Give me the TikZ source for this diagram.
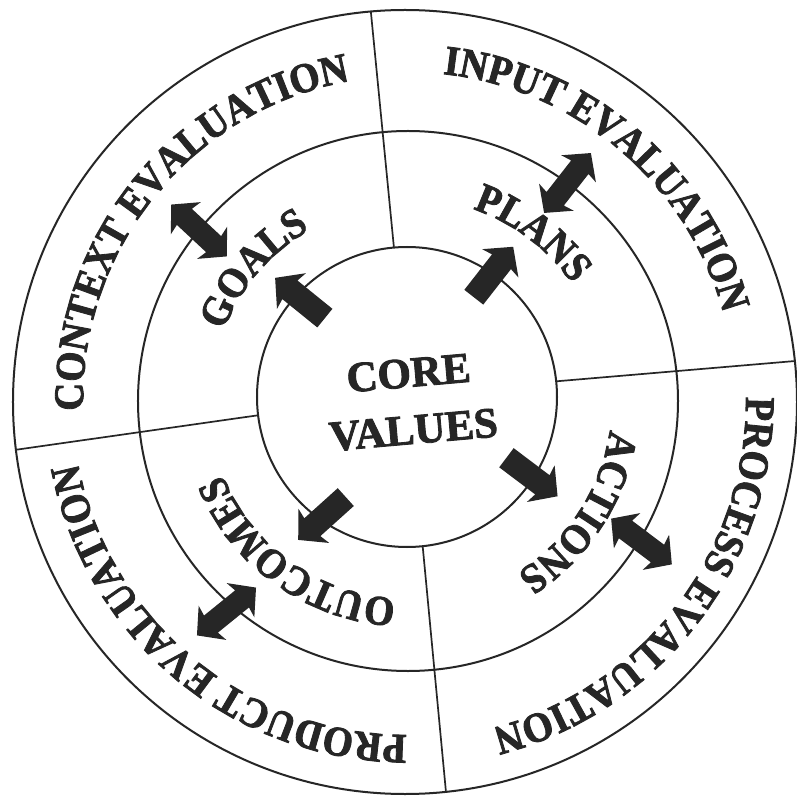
\documentclass[tikz,border=0pt]{standalone}
\usepackage{fontspec}
\setmainfont{Liberation Serif}
\newfontfamily\arcfam{Liberation Serif Bold}[FakeBold=2, FakeStretch=0.92]
\newfontfamily\corefam{Liberation Serif Bold}[FakeBold=2]
\usetikzlibrary{decorations.text}
\definecolor{ink}{HTML}{262626}
\newcommand\lblfnt{\arcfam\fontsize{42}{42}\selectfont}
\newcommand\corefnt{\corefam\fontsize{43}{57}\selectfont}
% #1 = middle angle, #2 = baseline radius, #3 = text (read clockwise, tops outward)
\newcommand\arclabel[3]{%
  \path[decorate, decoration={text along path, text={|\lblfnt|#3},
        text color=ink, text align=center}]
    (#1+80:#2) arc[start angle=#1+80, end angle=#1-80, radius=#2];}
\begin{document}
\begin{tikzpicture}[x=1pt, y=1pt,
  ring/.style={circle, draw=ink, line width=2pt, inner sep=0pt, outer sep=0pt},
  divider/.style={draw=ink, line width=1.7pt},
  arrowfill/.style={fill=ink},
  sarrow/.pic={\fill[arrowfill] (-32,-12) -- (13,-12) -- (11,-23) -- (32,0)
      -- (11,23) -- (13,12) -- (-32,12) -- cycle;},
  darrow/.pic={\fill[arrowfill] (-38,0) -- (-18,-22) -- (-20,-11) -- (20,-11)
      -- (18,-22) -- (38,0) -- (18,22) -- (20,11) -- (-20,11) -- (-18,22) -- cycle;}
]
\useasboundingbox[fill=white] (-407,-397) rectangle (389,400);

% rings
\node[ring, minimum size=784] (outer) at (-2,-2) {};
\node[ring, minimum size=540] (middle) at (1,-1) {};
\node[ring, minimum size=300] (inner) at (0,3) {};

% quadrant dividers
\draw[divider] (inner.95.5) -- (outer.95.5);
\draw[divider] (inner.6.8) -- (outer.6.8);
\draw[divider] (inner.187) -- (outer.187);
\draw[divider] (inner.276.8) -- (outer.276.8);

% centre
\node[font=\corefnt, text=ink, align=center, rotate=5, inner sep=0pt] (core) at (4,-1.5) {CORE\\VALUES};

% outer ring labels
\arclabel{141}{324}{CONTEXT EVALUATION}
\arclabel{49.5}{328}{INPUT EVALUATION}
\arclabel{-37.5}{339}{PROCESS EVALUATION}
\arclabel{230.4}{335}{PRODUCT EVALUATION}

% middle ring labels
\arclabel{139.5}{196}{GOALS}
\arclabel{53}{202}{PLANS}
\arclabel{-33}{205}{ACTIONS}
\arclabel{234.4}{199}{OUTCOMES}

% arrows from the core outward
\pic[rotate=141] (goalsarrow) at (-107,102) {sarrow};
\pic[rotate=52] (plansarrow) at (86.5,128) {sarrow};
\pic[rotate=-37] (actionsarrow) at (125,-77) {sarrow};
\pic[rotate=222] (outcomesarrow) at (-85,-118.5) {sarrow};

% two-way arrows across the middle ring
\pic[rotate=137] (contextarrow) at (-208,169.5) {darrow};
\pic[rotate=52] (inputarrow) at (160.5,217) {darrow};
\pic[rotate=-37] (processarrow) at (234.5,-141.5) {darrow};
\pic[rotate=39] (productarrow) at (-180.5,-211.5) {darrow};
\end{tikzpicture}
\end{document}
